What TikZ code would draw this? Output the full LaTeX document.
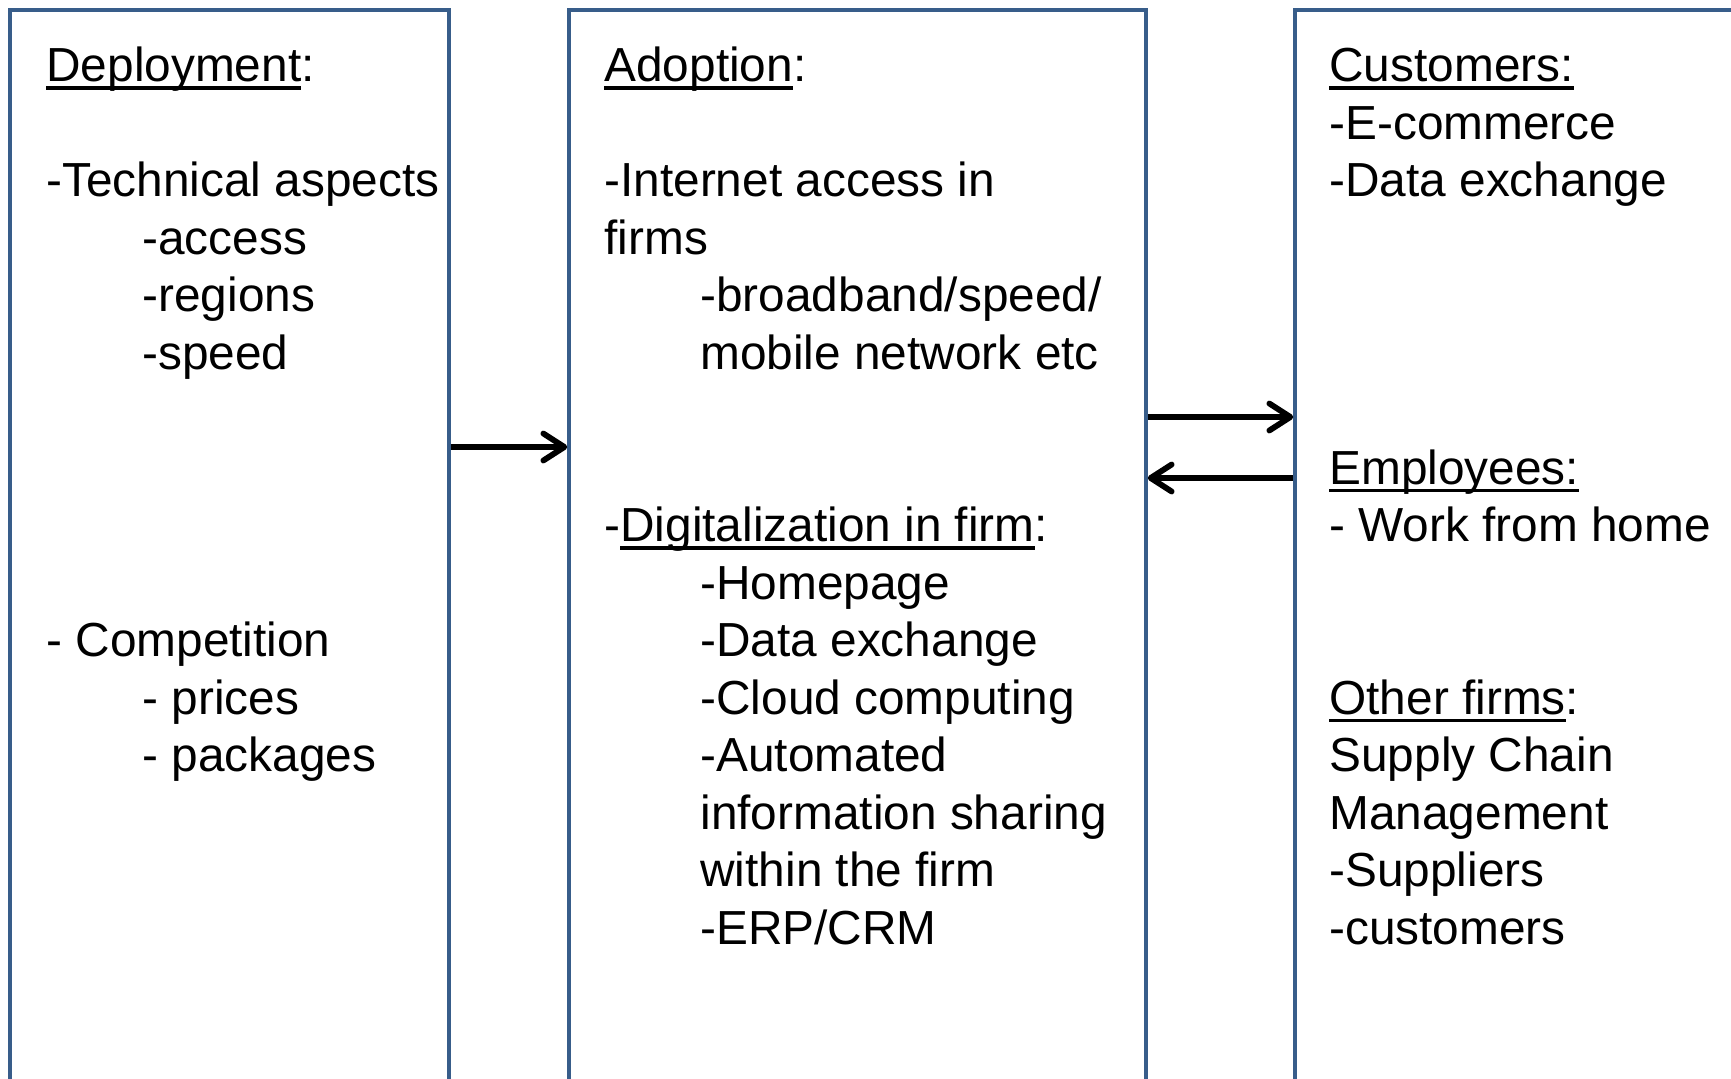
\documentclass[tikz,border=0pt]{standalone}
\usepackage{fontspec}
\setmainfont{Liberation Sans}
\usetikzlibrary{arrows.meta}
\definecolor{boxblue}{RGB}{56,93,138}
\newcommand\uline[1]{\setbox0\hbox{#1}\rlap{\vrule height -2.3pt depth 4.1pt width \wd0}\box0}
\begin{document}
\begin{tikzpicture}[x=0.5pt,y=-0.5pt,
  box/.style={draw=boxblue, line width=1.75pt, rectangle, inner sep=0pt, fill=none},
  txt/.style={anchor=base west, inner sep=0pt, font=\fontsize{23.9pt}{28.7pt}\selectfont},
  arr/.style={line width=2.9pt, -{Straight Barb[length=10.5pt,width=13.5pt,line cap=round,line join=round]}}]
\useasboundingbox (0,0) rectangle (1731,1078);
\fill[white] (0,0) rectangle (1731,1078);
\clip (0,0) rectangle (1731,1078);
% boxes
\node[box, minimum width=219.5pt, minimum height=550pt] (b1) at (229.5,560) {};
\node[box, minimum width=288.5pt, minimum height=550pt] (b2) at (857.5,560) {};
\node[box, minimum width=302.5pt, minimum height=550pt] (b3) at (1597.5,560) {};
% left box text
\node[txt] (l0) at (46,81.5) {\uline{Deployment}:};
\node[txt] (l2) at (46,196.5) {-Technical aspects};
\node[txt] (l3) at (142,254) {-access};
\node[txt] (l4) at (142,311.5) {-regions};
\node[txt] (l5) at (142,369) {-speed};
\node[txt] (l10) at (46,656.5) {- Competition};
\node[txt] (l11) at (142,714) {- prices};
\node[txt] (l12) at (142,771.5) {- packages};
% middle box text
\node[txt] (m0) at (604,81.5) {\uline{Adoption}:};
\node[txt] (m2) at (604,196.5) {-Internet access in};
\node[txt] (m3) at (604,254) {firms};
\node[txt] (m4) at (700,311.5) {-broadband/speed/};
\node[txt] (m5) at (700,369) {mobile network etc};
\node[txt] (m8) at (604,541.5) {-\uline{Digitalization in firm}:};
\node[txt] (m9) at (700,599) {-Homepage};
\node[txt] (m10) at (700,656.5) {-Data exchange};
\node[txt] (m11) at (700,714) {-Cloud computing};
\node[txt] (m12) at (700,771.5) {-Automated};
\node[txt] (m13) at (700,829) {information sharing};
\node[txt] (m14) at (700,886.5) {within the firm};
\node[txt] (m15) at (700,944) {-ERP/CRM};
% right box text
\node[txt] (r0) at (1329,81.5) {\uline{Customers:}};
\node[txt] (r1) at (1329,139) {-E-commerce};
\node[txt] (r2) at (1329,196.5) {-Data exchange};
\node[txt] (r7) at (1329,484) {\uline{Employees:}};
\node[txt] (r8) at (1329,541.5) {- Work from home};
\node[txt] (r11) at (1329,714) {\uline{Other firms}:};
\node[txt] (r12) at (1329,771.5) {Supply Chain};
\node[txt] (r13) at (1329,829) {Management};
\node[txt] (r14) at (1329,886.5) {-Suppliers};
\node[txt] (r15) at (1329,944) {-customers};
% connectors
\coordinate (ya) at (0,447);
\coordinate (yb) at (0,417);
\coordinate (yc) at (0,478);
\draw[arr] (b1.east |- ya) -- (b2.west |- ya);
\draw[arr] (b2.east |- yb) -- (b3.west |- yb);
\draw[arr] (b3.west |- yc) -- (b2.east |- yc);
\end{tikzpicture}
\end{document}
